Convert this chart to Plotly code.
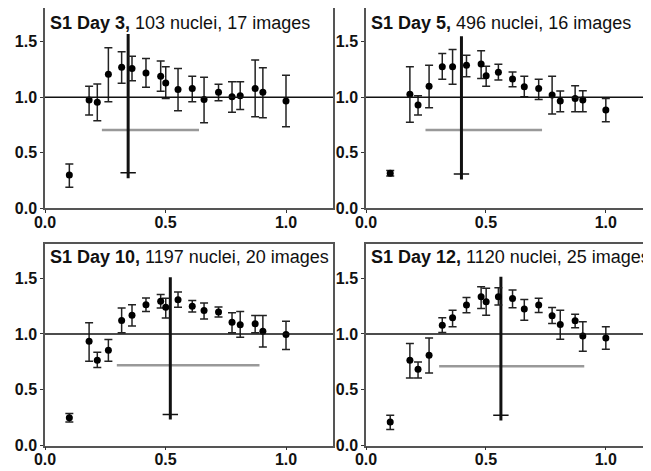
import plotly.graph_objects as go

# ---- data ----
x_positions = [0.101, 0.183, 0.217, 0.263, 0.318, 0.361, 0.419, 0.48, 0.501,
               0.552, 0.611, 0.66, 0.72, 0.776, 0.81, 0.872, 0.904, 1.0]

panel_bold = ["S1 Day 3,", "S1 Day 5,", "S1 Day 10,", "S1 Day 12,"]
panel_rest = [" 103 nuclei, 17 images", " 496 nuclei, 16 images",
              " 1197 nuclei, 20 images", " 1120 nuclei, 25 images"]

day3_mean = [0.30, 0.976, 0.955, 1.207, 1.27, 1.26, 1.22, 1.19, 1.13, 1.07, 1.08, 0.98, 1.045, 1.005, 1.015, 1.08, 1.045, 0.967]
day3_upper = [0.40, 1.10, 1.12, 1.447, 1.41, 1.37, 1.35, 1.327, 1.276, 1.26, 1.19, 1.18, 1.117, 1.14, 1.14, 1.336, 1.267, 1.198]
day3_lower = [0.19, 0.84, 0.79, 0.96, 1.126, 1.15, 1.09, 1.054, 0.99, 0.88, 0.96, 0.77, 0.97, 0.865, 0.89, 0.825, 0.816, 0.735]

day5_mean = [0.315, 1.027, 0.93, 1.10, 1.276, 1.276, 1.288, 1.30, 1.195, 1.225, 1.165, 1.096, 1.08, 1.02, 0.967, 0.99, 0.975, 0.886]
day5_upper = [0.34, 1.276, 1.015, 1.29, 1.396, 1.43, 1.38, 1.42, 1.28, 1.297, 1.228, 1.19, 1.162, 1.19, 1.057, 1.105, 1.06, 0.99]
day5_lower = [0.29, 0.775, 0.84, 0.906, 1.162, 1.117, 1.186, 1.17, 1.10, 1.156, 1.096, 1.005, 0.98, 0.85, 0.87, 0.87, 0.87, 0.78]

day10_mean = [0.248, 0.934, 0.764, 0.853, 1.12, 1.167, 1.262, 1.292, 1.238, 1.307, 1.247, 1.209, 1.197, 1.104, 1.083, 1.09, 1.023, 0.994]
day10_upper = [0.286, 1.10, 0.835, 0.95, 1.233, 1.262, 1.322, 1.352, 1.32, 1.376, 1.30, 1.277, 1.242, 1.19, 1.2, 1.164, 1.164, 1.113]
day10_lower = [0.21, 0.755, 0.70, 0.755, 1.01, 1.07, 1.20, 1.233, 1.143, 1.238, 1.197, 1.134, 1.152, 1.01, 0.97, 1.01, 0.883, 0.86]

day12_mean = [0.21, 0.764, 0.683, 0.809, 1.078, 1.144, 1.258, 1.333, 1.288, 1.333, 1.318, 1.222, 1.258, 1.162, 1.084, 1.117, 0.982, 0.964]
day12_upper = [0.27, 0.914, 0.749, 0.964, 1.144, 1.213, 1.327, 1.422, 1.408, 1.413, 1.393, 1.309, 1.32, 1.237, 1.213, 1.177, 1.108, 1.063]
day12_lower = [0.144, 0.605, 0.605, 0.65, 1.012, 1.063, 1.189, 1.228, 1.168, 1.258, 1.234, 1.123, 1.192, 1.093, 0.952, 1.054, 0.845, 0.863]

peak_x = [0.345, 0.398, 0.52, 0.5625]
peak_low = [0.27, 0.26, 0.233, 0.225]
peak_high = [1.57, 1.55, 1.507, 1.512]
peak_cap = [0.32, 0.31, 0.278, 0.27]
spread_start = [0.236, 0.248, 0.298, 0.305]
spread_end = [0.639, 0.734, 0.89, 0.91]
spread_y = [0.705, 0.705, 0.718, 0.71]

x_ticks = [0.0, 0.5, 1.0]
y_ticks = [0.0, 0.5, 1.0, 1.5]
reference_level = 1.0

means = [day3_mean, day5_mean, day10_mean, day12_mean]
uppers = [day3_upper, day5_upper, day10_upper, day12_upper]
lowers = [day3_lower, day5_lower, day10_lower, day12_lower]

# ---- layout geometry (page body has an 8px margin) ----
W, H = 643, 463
col_px = [(37, 325), (358, 641)]
row_px = [(0, 200.3), (235.5, 437.5)]
x_max = [1.195, 1.18]
y_max = [1.805, 1.81]

FONT = "Arial, Liberation Sans, sans-serif"

fig = go.Figure()
layout = dict(width=W, height=H, margin=dict(l=0, r=0, t=0, b=0, autoexpand=False),
              paper_bgcolor="white", plot_bgcolor="white", showlegend=False,
              shapes=[], annotations=[])

for i in range(4):
    r, c = divmod(i, 2)
    n = i + 1
    xa = "x" if n == 1 else f"x{n}"
    ya = "y" if n == 1 else f"y{n}"
    xkey = "xaxis" if n == 1 else f"xaxis{n}"
    ykey = "yaxis" if n == 1 else f"yaxis{n}"
    x0p, x1p = col_px[c]
    y0p, y1p = row_px[r]
    layout[xkey] = dict(domain=[x0p / W, x1p / W], range=[0, x_max[c]], anchor=ya,
                        automargin=False, ticklabelstandoff=-4,
                        tickvals=x_ticks, ticktext=[f"{v:.1f}" for v in x_ticks],
                        showgrid=False, zeroline=False, showline=True, linecolor="#555",
                        linewidth=1.5, mirror=True, ticks="outside", ticklen=3,
                        tickcolor="#333", tickwidth=1,
                        tickfont=dict(family=FONT, size=16, color="#111", weight="bold"))
    layout[ykey] = dict(domain=[1 - y1p / H, 1 - y0p / H], range=[0, y_max[r]], anchor=xa,
                        automargin=False,
                        tickvals=y_ticks, ticktext=[f"{v:.1f}" for v in y_ticks],
                        showgrid=False, zeroline=False, showline=True, linecolor="#555",
                        linewidth=1.5, mirror=True, ticks="outside", ticklen=3,
                        tickcolor="#333", tickwidth=1,
                        tickfont=dict(family=FONT, size=16, color="#111", weight="bold"))

    # reference line at 1.0
    layout["shapes"].append(dict(type="line", xref=f"{xa} domain", yref=ya,
                                 x0=0, x1=1, y0=reference_level, y1=reference_level,
                                 line=dict(color="#111", width=1.5), layer="above"))

    # gray spread line
    fig.add_trace(go.Scatter(x=[spread_start[i], spread_end[i]], y=[spread_y[i], spread_y[i]],
                             mode="lines", line=dict(color="#999", width=2.5),
                             xaxis=xa, yaxis=ya, hoverinfo="skip"))
    # vertical peak line
    fig.add_trace(go.Scatter(x=[peak_x[i], peak_x[i]], y=[peak_low[i], peak_high[i]],
                             mode="lines", line=dict(color="#111", width=3),
                             xaxis=xa, yaxis=ya, hoverinfo="skip"))
    fig.add_trace(go.Scatter(x=[peak_x[i]], y=[peak_cap[i]], mode="markers",
                             marker=dict(symbol="line-ew-open", size=11, color="#111",
                                         line=dict(color="#111", width=1.5)),
                             xaxis=xa, yaxis=ya, hoverinfo="skip"))

    # data points with error bars
    m = means[i]
    up = [u - v for u, v in zip(uppers[i], m)]
    dn = [v - l for v, l in zip(m, lowers[i])]
    fig.add_trace(go.Scatter(x=x_positions, y=m, mode="markers",
                             marker=dict(color="#000", size=7),
                             error_y=dict(type="data", symmetric=False, array=up,
                                          arrayminus=dn, color="#222", thickness=1.5,
                                          width=4),
                             xaxis=xa, yaxis=ya))

    # panel title
    layout["annotations"].append(dict(
        xref=f"{xa} domain", yref=f"{ya} domain", x=0, y=1,
        xanchor="left", yanchor="top", xshift=3, yshift=-3 if r == 0 else -1,
        showarrow=False,
        text=f"<b>{panel_bold[i]}</b>{panel_rest[i]}",
        font=dict(family=FONT, size=18, color="#111")))

fig.update_layout(**layout)
fig.write_html("out.html")
